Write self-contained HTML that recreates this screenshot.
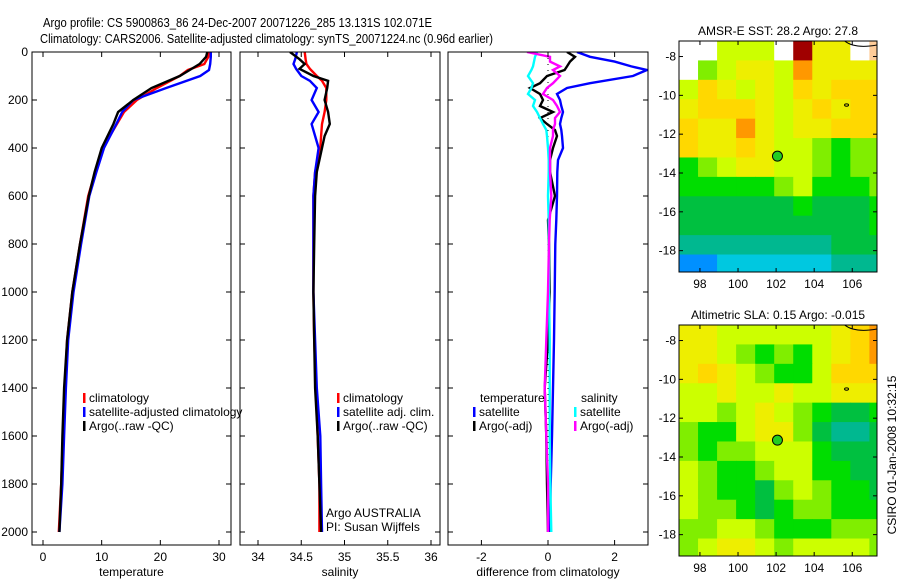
<!DOCTYPE html>
<html><head><meta charset="utf-8"><style>
body{margin:0;background:#fff;}
svg{display:block;font-family:"Liberation Sans",sans-serif;}
text{fill:#000;}
</style></head><body>
<svg id="fig" width="900" height="580" viewBox="0 0 900 580" xmlns="http://www.w3.org/2000/svg">
<text x="43" y="27" font-size="13" textLength="389" lengthAdjust="spacingAndGlyphs">Argo profile: CS 5900863_86 24-Dec-2007 20071226_285 13.131S 102.071E</text>
<text x="40" y="43" font-size="13" textLength="453" lengthAdjust="spacingAndGlyphs">Climatology: CARS2006. Satellite-adjusted climatology: synTS_20071224.nc (0.96d earlier)</text>
<g id="layer"></g>
</svg>
<script>
// ---- depth levels & profiles ----
const depthsT = [0,20,50,75,100,150,200,250,300,400,500,600,800,1000,1200,1400,1600,1800,2000];
const tempClim = [28.3,28.2,27.5,24.7,23.3,19.4,16,13.8,12.6,10.2,8.9,7.7,6.3,5,4.1,3.7,3.4,3.1,2.7];
const tempSat  = [28.6,28.6,28.5,28.3,26.8,21,15.4,13.5,12.5,10.4,9.1,7.9,6.5,5.2,4.3,3.9,3.6,3.3,2.8];
const tempArgo = [28,27.8,26.7,25,23.3,18.5,15.4,12.8,12,10,8.8,7.8,6.3,5,4.1,3.6,3.3,3.1,2.8];

const depthsS = [0,30,50,70,100,120,150,200,250,300,350,400,500,600,800,1000,1200,1400,1600,1800,2000];
const salClim = [34.54,34.55,34.56,34.6,34.68,34.74,34.79,34.79,34.77,34.74,34.73,34.72,34.66,34.64,34.64,34.64,34.65,34.67,34.69,34.71,34.71];
const salSat  = [34.45,34.43,34.41,34.44,34.5,34.6,34.68,34.62,34.7,34.62,34.66,34.7,34.66,34.64,34.64,34.64,34.66,34.68,34.72,34.73,34.74];
const salArgo = [34.37,34.48,34.54,34.48,34.64,34.81,34.8,34.77,34.81,34.83,34.77,34.74,34.68,34.66,34.65,34.64,34.65,34.66,34.69,34.71,34.73];

const depthsD = [0,20,40,60,75,100,130,150,175,200,225,250,275,300,325,350,400,450,500,600,700,800,1000,1200,1400,1600,1800,2000];
const dTempSat  = [0.87,1.26,2.0,2.5,2.97,2.55,1.26,0.57,0.27,0.36,0.4,0.45,0.4,0.36,0.4,0.42,0.45,0.3,0.28,0.27,0.25,0.22,0.2,0.18,0.15,0.12,0.08,0.05];
const dTempArgo = [0.57,0.81,0.66,0.57,0.5,-0.03,-0.24,-0.54,-0.24,-0.15,-0.24,0.15,-0.24,-0.03,0.21,0.27,0.15,0.06,0.06,0.21,0.0,0.03,0.05,0.0,-0.1,-0.05,-0.03,0.0];
const dSalSat   = [-0.33,-0.39,-0.42,-0.45,-0.5,-0.6,-0.45,-0.5,-0.6,-0.39,-0.45,-0.33,-0.24,-0.15,-0.05,-0.03,0.0,0.02,0.02,0.0,0.02,0.03,0.03,0.05,0.05,0.05,0.07,0.1];
const dSalArgo  = [-0.63,0.06,0.06,0.36,0.15,0.36,0.15,-0.03,-0.15,0.15,0.27,0.36,0.21,0.21,0.15,0.15,0.06,0.06,0.06,0.1,0.05,0.03,0.0,-0.05,-0.1,-0.05,0.0,0.0];

const depthTicks = [0,200,400,600,800,1000,1200,1400,1600,1800,2000];
const tempTicks = [0,10,20,30];
const salTicks = [34,34.5,35,35.5,36];
const salTickLabels = ["34","34.5","35","35.5","36"];
const diffTicks = [-2,0,2];

// ---- map grids (rows: lat -7.2.. down, cols: lon 96.9..), colour index; -1 missing, -2 land ----
const sstGrid = [
[-1,-1,6,6,6,-1,10,7,7,-1,-2],
[-1,5,6,7,7,6,9,7,7,7,7],
[6,8,7,6,7,6,8,7,8,8,8],
[7,8,8,8,7,6,7,8,7,8,8],
[8,7,7,9,7,6,7,7,8,8,8],
[8,7,7,8,7,6,6,5,4,5,5],
[4,5,6,7,7,6,6,5,4,5,5],
[4,4,4,4,4,5,6,4,4,4,5],
[3,3,3,3,3,3,4,3,3,3,4],
[3,3,3,3,3,3,3,3,3,3,4],
[2,2,2,2,2,2,2,2,3,3,3],
[0,0,1,1,1,1,1,1,2,2,2]];
const slaGrid = [
[7,7,6,6,6,6,6,6,7,8,9],
[7,7,6,5,4,5,4,6,7,8,9],
[7,8,7,6,5,4,4,6,8,8,8],
[6,6,7,6,6,7,6,6,7,7,7],
[6,6,5,6,7,6,5,4,3,3,4],
[5,4,4,6,7,7,5,3,2,2,3],
[5,4,5,5,6,6,6,4,3,3,3],
[6,5,4,4,5,6,6,4,4,3,3],
[6,5,4,4,3,5,6,5,4,4,3],
[6,5,5,4,3,4,5,5,4,4,4],
[5,5,6,6,5,4,4,4,5,5,5],
[5,6,7,7,6,5,6,6,6,6,5]];
const palette = ["#0090ff","#00c8e0","#00b890","#00c040","#00dd00","#80ee00","#ccff00","#eeee00","#ffd800","#ff9800","#a00000"];
const lonTicks = [98,100,102,104,106];
const latTicks = [-8,-10,-12,-14,-16,-18];
const floatLon = 102.071, floatLat = -13.131;

const NS="http://www.w3.org/2000/svg";
const layer=document.getElementById('layer');
function mk(tag,attrs,parent){const e=document.createElementNS(NS,tag);for(const k in attrs)e.setAttribute(k,attrs[k]);(parent||layer).appendChild(e);return e;}
function txt(x,y,s,size,anchor,parent){const t=mk('text',{x:x,y:y,'font-size':size,'text-anchor':anchor||'start'},parent);t.textContent=s;return t;}

const PT=52, PB=545, Y0=52, Y2000=532;
function yD(d){return Y0+(d-0)*(Y2000-Y0)/2000;}

const panels=[
 {name:'temperature-panel',L:32,R:231,x:v=>43+v*(219-43)/30,ticks:tempTicks,labels:tempTicks.map(String),xlabel:'temperature'},
 {name:'salinity-panel',L:240,R:440,x:v=>258+(v-34)*(431-258)/2,ticks:salTicks,labels:salTickLabels,xlabel:'salinity'},
 {name:'difference-panel',L:448,R:648,x:v=>548+v*33.3,ticks:diffTicks,labels:diffTicks.map(String),xlabel:'difference from climatology'}
];
panels.forEach((p,i)=>{
  const g=mk('g',{});
  
  
  const clip=mk('clipPath',{id:'clip'+i},g);
  mk('rect',{x:p.L,y:PT,width:p.R-p.L,height:PB-PT},clip);
  p.g=g; p.plot=mk('g',{'clip-path':'url(#clip'+i+')'},g);
  mk('rect',{x:p.L,y:PT,width:p.R-p.L,height:PB-PT,fill:'none',stroke:'#000','stroke-width':1},g);
  depthTicks.forEach(d=>{
    const y=yD(d);
    mk('line',{x1:p.L,x2:p.L+5,y1:y,y2:y,stroke:'#000'},g);
    mk('line',{x1:p.R-5,x2:p.R,y1:y,y2:y,stroke:'#000'},g);
    if(i===0){const t=txt(p.L-4,y+4,String(d),12,'end',g);
      
      }
  });
  p.ticks.forEach((v,k)=>{
    const x=p.x(v);
    mk('line',{x1:x,x2:x,y1:PB,y2:PB-5,stroke:'#000'},g);
    mk('line',{x1:x,x2:x,y1:PT,y2:PT+5,stroke:'#000'},g);
    const t=txt(x,PB+16,p.labels[k],12,'middle',g);
    
    
  });
  const xl=txt((p.L+p.R)/2,PB+31,p.xlabel,12,'middle',g);
  
  
});
function series(p,depths,vals,color,name,w){
  const pts=depths.map((d,k)=>p.x(vals[k]).toFixed(1)+','+yD(d).toFixed(1)).join(' ');
  const l=mk('polyline',{points:pts,fill:'none',stroke:color,'stroke-width':w||2.4,'stroke-linejoin':'miter'},p.plot);
  
  
}
series(panels[0],depthsT,tempClim,'#ff0000','temp-climatology-line');
series(panels[0],depthsT,tempSat,'#0000ff','temp-satellite-line');
series(panels[0],depthsT,tempArgo,'#000000','temp-argo-line');
series(panels[1],depthsS,salClim,'#ff0000','sal-climatology-line');
series(panels[1],depthsS,salSat,'#0000ff','sal-satellite-line');
series(panels[1],depthsS,salArgo,'#000000','sal-argo-line');
const z=mk('line',{x1:panels[2].x(0),x2:panels[2].x(0),y1:yD(0),y2:yD(2000),stroke:'#000','stroke-dasharray':'1,5'},panels[2].plot);


series(panels[2],depthsD,dTempSat,'#0000ff','diff-temp-satellite-line');
series(panels[2],depthsD,dTempArgo,'#000000','diff-temp-argo-line');
series(panels[2],depthsD,dSalSat,'#00ffff','diff-sal-satellite-line');
series(panels[2],depthsD,dSalArgo,'#ff00ff','diff-sal-argo-line');

function legend(x,y,color,label,g){
  const e=mk('g',{},g);
  
  
  mk('rect',{x:x,y:y-9,width:2.5,height:10,fill:color},e);
  txt(x+6,y,label,12,'start',e);
}
legend(83,402,'#ff0000','climatology',panels[0].g);
legend(83,416,'#0000ff','satellite-adjusted climatology',panels[0].g);
legend(83,430,'#000000','Argo(..raw -QC)',panels[0].g);
legend(337,402,'#ff0000','climatology',panels[1].g);
legend(337,416,'#0000ff','satellite adj. clim.',panels[1].g);
legend(337,430,'#000000','Argo(..raw -QC)',panels[1].g);
txt(480,402,'temperature',12,'start',panels[2].g);
txt(581,402,'salinity',12,'start',panels[2].g);
legend(473,416,'#0000ff','satellite',panels[2].g);
legend(473,430,'#000000','Argo(-adj)',panels[2].g);
legend(574,416,'#00ffff','satellite',panels[2].g);
legend(574,430,'#ff00ff','Argo(-adj)',panels[2].g);
const a1=txt(326,517,'Argo AUSTRALIA',12,'start',panels[1].g);


const a2=txt(326,531,'PI: Susan Wijffels',12,'start',panels[1].g);



function drawMap(grid,top,bot,title,name,idx){
  const L=679,R=877,lon0=96.9,lon1=107.3,lat0=-7.2,lat1=-19.1;
  const xL=v=>L+(v-lon0)*(R-L)/(lon1-lon0);
  const yL=v=>top+(v-lat0)*(bot-top)/(lat1-lat0);
  const g=mk('g',{});
  
  
  const clip=mk('clipPath',{id:'mclip'+idx},g);
  mk('rect',{x:L,y:top,width:R-L,height:bot-top},clip);
  const cg=mk('g',{'clip-path':'url(#mclip'+idx+')'},g);
  grid.forEach((row,r)=>row.forEach((v,c)=>{
    const x1=xL(lon0+c),x2=xL(lon0+c+1),y1=yL(lat0-r),y2=yL(lat0-r-1);
    const fill=v===-1?'#ffffff':v===-2?'#ffcc99':palette[v];
    const cell=mk('rect',{x:x1,y:y1,width:x2-x1+0.5,height:y2-y1+0.5,fill:fill},cg);
    
    
  }));
  mk('path',{d:`M${xL(105.6)},${top} q10,8 ${R-xL(105.6)},4`,fill:'none',stroke:'#000'},cg);
  mk('ellipse',{cx:xL(105.7),cy:yL(-10.5),rx:2,ry:1.2,fill:'none',stroke:'#000'},cg);
  const fc=mk('circle',{cx:xL(floatLon),cy:yL(floatLat),r:5,fill:'#22cc22',stroke:'#000'},cg);
  
  
  mk('rect',{x:L,y:top,width:R-L,height:bot-top,fill:'none',stroke:'#000'},g);
  lonTicks.forEach(v=>{const x=xL(v);
    mk('line',{x1:x,x2:x,y1:bot,y2:bot-4,stroke:'#000'},g);
    mk('line',{x1:x,x2:x,y1:top,y2:top+4,stroke:'#000'},g);
    txt(x,bot+16,String(v),12,'middle',g);});
  latTicks.forEach(v=>{const y=yL(v);
    mk('line',{x1:L,x2:L+4,y1:y,y2:y,stroke:'#000'},g);
    mk('line',{x1:R-4,x2:R,y1:y,y2:y,stroke:'#000'},g);
    txt(L-3,y+4,String(v),12,'end',g);});
  const t=txt((L+R)/2,top-6,title,12,'middle',g);
  
  
}
drawMap(sstGrid,41,272,'AMSR-E SST: 28.2 Argo: 27.8','sst-map',0);
drawMap(slaGrid,325,556,'Altimetric SLA: 0.15 Argo: -0.015','sla-map',1);
const st=txt(0,0,'CSIRO 01-Jan-2008 10:32:15',12,'middle');
st.setAttribute('transform','translate(896,455) rotate(-90)');


</script>
</body></html>
